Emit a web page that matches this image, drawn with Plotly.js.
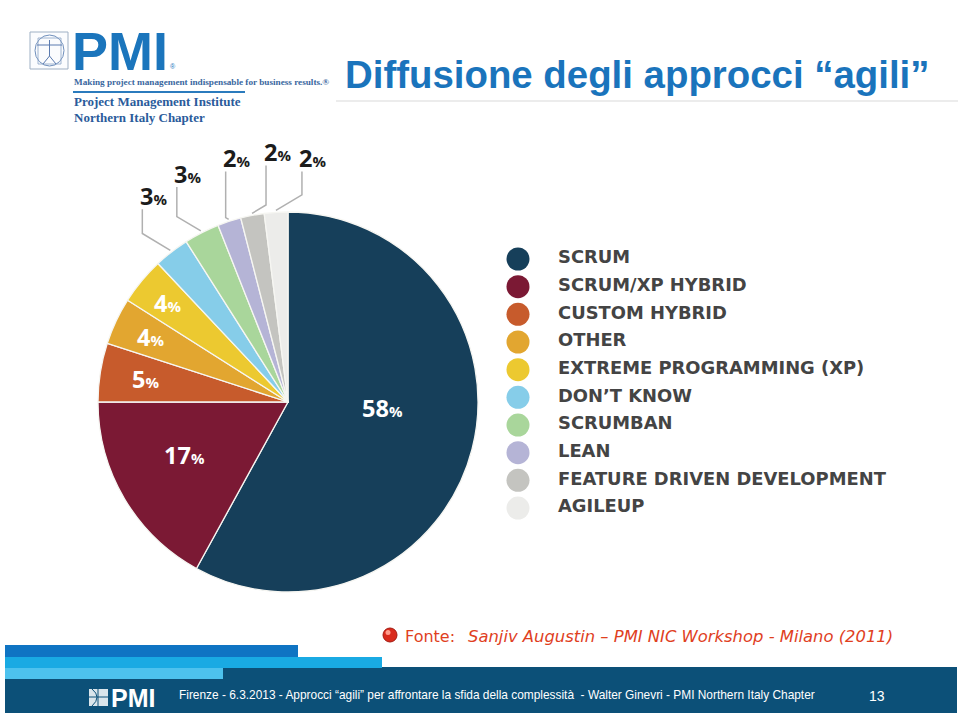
<!DOCTYPE html>
<html>
<head>
<meta charset="utf-8">
<script src="https://cdn.plot.ly/plotly-3.0.1.min.js"></script>
<style>
html,body{margin:0;padding:0;background:#fff;}
#chart{width:960px;height:716px;}
</style>
</head>
<body>
<div id="chart"></div>
<script>
// ---------------- DATA ----------------
const categories = ['SCRUM','SCRUM/XP HYBRID','CUSTOM HYBRID','OTHER','EXTREME PROGRAMMING (XP)','DON\u2019T KNOW','SCRUMBAN','LEAN','FEATURE DRIVEN DEVELOPMENT','AGILEUP'];
const shares = [58,17,5,4,4,3,3,2,2,2];
const sliceColors = ['#163f5a','#7b1934','#c75b2c','#e2a630','#ecc930','#86cde9','#a9d69b','#b5b4d6','#c4c4c0','#ececea'];
const titleText = 'Diffusione degli approcci \u201cagili\u201d';
const sourceLabel = 'Fonte:';
const sourceText = 'Sanjiv Augustin \u2013 PMI NIC Workshop - Milano (2011)';
const footerText = 'Firenze - 6.3.2013 - Approcci \u201cagili\u201d per affrontare la sfida della complessit\u00e0\u00a0\u00a0- Walter Ginevri - PMI Northern Italy Chapter';
const pageNumber = '13';

// ---------------- LAYOUT GEOMETRY ----------------
const W = 960, H = 716;
const CX = 288, CY = 402, R = 190;          // pie placement
const px = x => x / W;
const py = y => 1 - y / H;

// label placement style (inside labels: radius fraction & angle tweak)
const insideR = [0.5, 0.61, 0.76, 0.8, 0.82];
const insideDA = [-10.8, 3.4, 0, 0, 0];
// outside labels: leader elbow dx & label dy relative to slice edge
const leaderDX = [-28, -24, -3, 14, 26];
const labelDY = [-54, -57, -61, -61, -52];

const total = shares.reduce((a, b) => a + b, 0);
let cum = 0;
const midAngles = shares.map(v => { const m = (cum + v / 2) / total * 360; cum += v; return m; });
const polar = (deg, r) => {
  const t = deg * Math.PI / 180;
  return [CX + r * Math.sin(t), CY - r * Math.cos(t)];
};
const pctHTML = v => v + '<span style="font-size:15px">%</span>';

const annotations = [];
const shapes = [];

midAngles.forEach((a, i) => {
  if (i < insideR.length) {
    const [x, y] = polar(a + insideDA[i], R * insideR[i]);
    annotations.push({x: px(x), y: py(y), xref: 'paper', yref: 'paper', showarrow: false,
      text: pctHTML(shares[i]), font: {family: 'Open Sans', size: 23.5, color: '#ffffff', weight: 700},
      xanchor: 'center', yanchor: 'middle'});
  } else {
    const k = i - insideR.length;
    const [ex, ey] = polar(a, R + 2);
    const elx = ex + leaderDX[k];
    const ely = ey - 0.6 * Math.abs(leaderDX[k]);
    const lx = elx + 11, ly = ey + labelDY[k];
    shapes.push({type: 'path', xref: 'paper', yref: 'paper',
      path: `M ${px(ex)} ${py(ey)} L ${px(elx)} ${py(ely)} L ${px(elx)} ${py(ly + 13)}`,
      line: {color: '#b0b0b0', width: 1.5}});
    annotations.push({x: px(lx), y: py(ly), xref: 'paper', yref: 'paper', showarrow: false,
      text: pctHTML(shares[i]), font: {family: 'Open Sans', size: 23.5, color: '#1c1c1c', weight: 700},
      xanchor: 'center', yanchor: 'middle'});
  }
});

// ---------- slide decorations ----------
// title
annotations.push({x: px(343), y: py(74), xref: 'paper', yref: 'paper', showarrow: false, xanchor: 'left', yanchor: 'middle',
  text: '<b>' + titleText + '</b>', font: {family: 'Liberation Sans, Arial', size: 38.4, color: '#1a74bc'}});
shapes.push({type: 'line', xref: 'paper', yref: 'paper', x0: px(336), x1: px(958), y0: py(101), y1: py(101), line: {color: '#ececec', width: 2}});

// PMI logo (top-left)
shapes.push({type: 'rect', xref: 'paper', yref: 'paper', x0: px(30), x1: px(68), y0: py(32), y1: py(69), line: {color: '#9fb0c4', width: 1}, fillcolor: '#fbfcfe'});
shapes.push({type: 'circle', xref: 'paper', yref: 'paper', x0: px(35), x1: px(64), y0: py(35), y1: py(66), line: {color: '#6f8fbc', width: 1}});
shapes.push({type: 'rect', xref: 'paper', yref: 'paper', x0: px(38), x1: px(61), y0: py(38), y1: py(64), line: {color: '#8aa3c6', width: 0.8}});
shapes.push({type: 'path', xref: 'paper', yref: 'paper', path: `M ${px(49.5)} ${py(40)} L ${px(49.5)} ${py(56)} M ${px(37)} ${py(45)} L ${px(62)} ${py(45)} M ${px(49.5)} ${py(56)} L ${px(43)} ${py(64)} M ${px(49.5)} ${py(56)} L ${px(56)} ${py(64)}`, line: {color: '#5b7bb0', width: 1}});
annotations.push({x: px(70), y: py(51), xref: 'paper', yref: 'paper', showarrow: false, xanchor: 'left', yanchor: 'middle',
  height: 40, valign: 'middle',
  text: '<b>PMI</b>', font: {family: 'Liberation Sans, Arial', size: 54, color: '#1b75bc'}});
annotations.push({x: px(168), y: py(66), xref: 'paper', yref: 'paper', showarrow: false, xanchor: 'left', yanchor: 'middle',
  text: '\u00ae', font: {family: 'Liberation Sans, Arial', size: 7, color: '#1b75bc'}});
annotations.push({x: px(72), y: py(82), xref: 'paper', yref: 'paper', showarrow: false, xanchor: 'left', yanchor: 'middle',
  text: '<b>Making project management indispensable for business results.\u00ae</b>', font: {family: 'Liberation Serif, Times New Roman', size: 9.2, color: '#3a67a0'}});
shapes.push({type: 'line', xref: 'paper', yref: 'paper', x0: px(73), x1: px(245), y0: py(92), y1: py(92), line: {color: '#2b7bbd', width: 2}});
annotations.push({x: px(72), y: py(102), xref: 'paper', yref: 'paper', showarrow: false, xanchor: 'left', yanchor: 'middle',
  text: '<b>Project Management Institute</b>', font: {family: 'Liberation Serif, Times New Roman', size: 13, color: '#2a5b9b'}});
annotations.push({x: px(72), y: py(117), xref: 'paper', yref: 'paper', showarrow: false, xanchor: 'left', yanchor: 'middle',
  text: '<b>Northern Italy Chapter</b>', font: {family: 'Liberation Serif, Times New Roman', size: 13, color: '#2a5b9b'}});

// source line
shapes.push({type: 'circle', xref: 'paper', yref: 'paper', x0: px(383), x1: px(397), y0: py(628), y1: py(642), fillcolor: '#d92a1c', line: {color: '#a31a10', width: 1}});
shapes.push({type: 'circle', xref: 'paper', yref: 'paper', x0: px(385.5), x1: px(390.5), y0: py(630), y1: py(635), fillcolor: '#ff9c8c', line: {width: 0}});
annotations.push({x: px(403), y: py(636), xref: 'paper', yref: 'paper', showarrow: false, xanchor: 'left', yanchor: 'middle',
  text: sourceLabel, font: {family: 'DejaVu Sans', size: 16, color: '#e0401e'}});
annotations.push({x: px(466), y: py(636), xref: 'paper', yref: 'paper', showarrow: false, xanchor: 'left', yanchor: 'middle',
  text: '<i>' + sourceText + '</i>', font: {family: 'DejaVu Sans', size: 16.4, color: '#e0401e'}});

// footer bands
shapes.push({type: 'rect', xref: 'paper', yref: 'paper', x0: px(5), x1: px(957), y0: py(667), y1: py(713), fillcolor: '#0c5078', line: {width: 0}, layer: 'below'});
shapes.push({type: 'rect', xref: 'paper', yref: 'paper', x0: px(5), x1: px(298), y0: py(645), y1: py(657), fillcolor: '#0f74c3', line: {width: 0}, layer: 'below'});
shapes.push({type: 'rect', xref: 'paper', yref: 'paper', x0: px(5), x1: px(382), y0: py(657), y1: py(668), fillcolor: '#19aae3', line: {width: 0}, layer: 'below'});
shapes.push({type: 'rect', xref: 'paper', yref: 'paper', x0: px(5), x1: px(223), y0: py(668), y1: py(679), fillcolor: '#4dc2ee', line: {width: 0}, layer: 'below'});
// footer PMI mark
shapes.push({type: 'rect', xref: 'paper', yref: 'paper', x0: px(89), x1: px(108), y0: py(689), y1: py(706), fillcolor: 'rgba(255,255,255,0.85)', line: {width: 0}});
shapes.push({type: 'path', xref: 'paper', yref: 'paper', path: `M ${px(89)} ${py(697)} L ${px(108)} ${py(697)} M ${px(98)} ${py(689)} L ${px(98)} ${py(706)} M ${px(92)} ${py(689)} Q ${px(102)} ${py(697)} ${px(92)} ${py(706)}`, line: {color: '#0c5078', width: 1}});
annotations.push({x: px(109), y: py(697.5), xref: 'paper', yref: 'paper', showarrow: false, xanchor: 'left', yanchor: 'middle',
  text: '<b>PMI</b>', font: {family: 'Liberation Sans, Arial', size: 25, color: '#ffffff'}});
annotations.push({x: px(177), y: py(695), xref: 'paper', yref: 'paper', showarrow: false, xanchor: 'left', yanchor: 'middle',
  text: footerText, font: {family: 'Liberation Sans, Arial', size: 11.9, color: '#ffffff'}});
annotations.push({x: px(877), y: py(696), xref: 'paper', yref: 'paper', showarrow: false, xanchor: 'center', yanchor: 'middle',
  text: pageNumber, font: {family: 'Liberation Sans, Arial', size: 14, color: '#ffffff'}});

// ---------------- TRACES ----------------
const pie = {
  type: 'pie', values: shares, labels: categories, sort: false, direction: 'clockwise', rotation: 0,
  marker: {colors: sliceColors, line: {color: '#f6f6f2', width: 1.3}},
  textinfo: 'none', hoverinfo: 'label+percent', showlegend: false,
  domain: {x: [px(CX - R), px(CX + R)], y: [py(CY + R), py(CY - R)]}
};

// custom legend (circles + labels) on its own axes
const LX = 518, LY0 = 259, LSTEP = 27.67, TEXT_GAP = 40;
const idx = categories.map((_, i) => i);
const legendDots = {
  type: 'scatter', mode: 'markers', x: idx.map(() => 0), y: idx, cliponaxis: false,
  marker: {size: 23, color: sliceColors, line: {width: 0}}, hoverinfo: 'skip', showlegend: false
};
const legendText = {
  type: 'scatter', mode: 'text', x: idx.map(() => TEXT_GAP), y: idx, text: categories, cliponaxis: false,
  textposition: 'middle right', textfont: {family: 'DejaVu Sans', size: 17.9, color: '#444444', weight: 700},
  hoverinfo: 'skip', showlegend: false
};

const layout = {
  width: W, height: H, margin: {l: 0, r: 0, t: 0, b: 0},
  paper_bgcolor: '#ffffff', plot_bgcolor: 'rgba(0,0,0,0)',
  showlegend: false,
  xaxis: {domain: [px(LX), 1], range: [0, W - LX], visible: false, fixedrange: true},
  yaxis: {domain: [py(LY0 + (categories.length - 0.5) * LSTEP), py(LY0 - 0.5 * LSTEP)],
          range: [categories.length - 0.5, -0.5], visible: false, fixedrange: true},
  annotations: annotations, shapes: shapes
};

Plotly.newPlot('chart', [pie, legendDots, legendText], layout, {displayModeBar: false, staticPlot: true});
</script>
</body>
</html>
